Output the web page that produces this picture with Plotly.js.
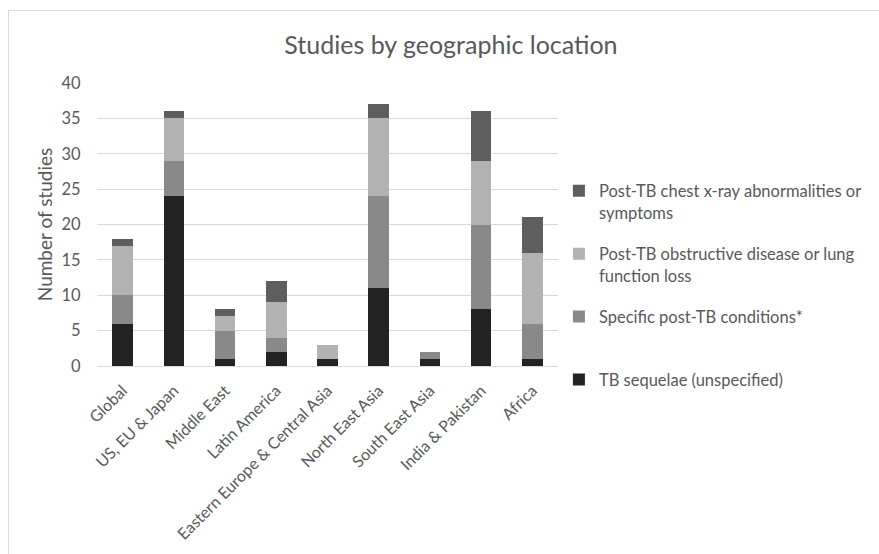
<!DOCTYPE html>
<html>
<head>
<meta charset="utf-8">
<script src="https://cdn.plot.ly/plotly-3.0.1.min.js"></script>
<style>
html,body{margin:0;padding:0;overflow:hidden;background:#fff;}
#chart{width:879px;height:554px;position:absolute;left:0;top:0;}
#frame{position:absolute;left:8px;top:10px;width:1000px;height:700px;border:1px solid #d9d9d9;pointer-events:none;}
</style>
</head>
<body>
<div id="chart"></div>
<div id="frame"></div>
<script>
const categories = ["Global","US, EU & Japan","Middle East","Latin America","Eastern Europe & Central Asia","North East Asia","South East Asia","India & Pakistan","Africa"];
const seriesNames = ["TB sequelae (unspecified)","Specific post-TB conditions*<br> ","Post-TB obstructive disease or lung<br>function loss","Post-TB chest x-ray abnormalities or<br>symptoms"];
const tbSequelae   = [6, 24, 1, 2, 1, 11, 1, 8, 1];
const specificPost = [4, 5, 4, 2, 0, 13, 1, 12, 5];
const obstructive  = [7, 6, 2, 5, 2, 11, 0, 9, 10];
const chestXray    = [1, 1, 1, 3, 0, 2, 0, 7, 5];
const colors = ["#232323","#898989","#b2b2b2","#5e5e5e"];

const seriesValues = [tbSequelae, specificPost, obstructive, chestXray];
const traces = seriesValues.map((v,i)=>({
  type:'bar', x:categories, y:v, name:seriesNames[i], legendgroup:'g'+i, legendrank:1000-i,
  marker:{color:colors[i], line:{width:0}},
  hoverinfo:'x+y+name'
}));

const fontFam = 'Lato, "Open Sans", sans-serif';
const layout = {
  width:879, height:554,
  margin:{l:97, r:312, t:83, b:188},
  paper_bgcolor:'#fff', plot_bgcolor:'#fff',
  barmode:'stack', bargap:0.6,
  font:{family:fontFam, color:'#595959', size:16},
  title:{text:'Studies by geographic location', x:0.513, xanchor:'center', y:0.918, yanchor:'middle', font:{family:fontFam, size:25, color:'#595959'}},
  xaxis:{tickangle:-45, showgrid:false, showline:false, ticks:'outside', ticklen:8, tickcolor:'rgba(0,0,0,0)', tickfont:{size:16, color:'#595959'}, automargin:false},
  yaxis:{range:[0,40], dtick:5, showgrid:true, gridcolor:'#d9d9d9', gridwidth:1, zeroline:true, zerolinecolor:'#d9d9d9', zerolinewidth:1, showline:false, ticks:'outside', ticklen:12, tickcolor:'rgba(0,0,0,0)', tickfont:{size:16.5, color:'#595959'}, automargin:false,
    title:{text:'Number of studies', standoff:3, font:{size:19, color:'#595959'}}},
  legend:{x:1.002, xanchor:'left', y:0.68, yanchor:'top', traceorder:'grouped', tracegroupgap:17, valign:'top', font:{size:16.5, color:'#595959'}, bgcolor:'rgba(0,0,0,0)'},
  showlegend:true
};
Plotly.newPlot('chart', traces, layout, {staticPlot:true});
</script>
</body>
</html>
